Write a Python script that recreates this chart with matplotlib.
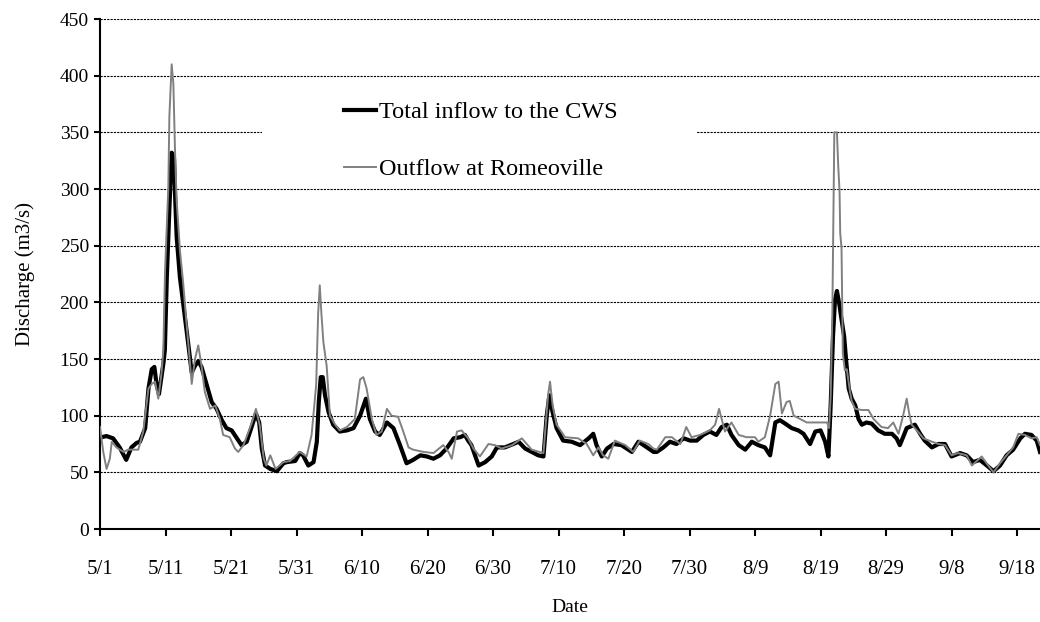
import matplotlib
matplotlib.use("Agg")
import matplotlib.pyplot as plt
from matplotlib.patches import Rectangle

# days after 5/1 and discharge (m3/s)
inflow_day = [0, 0.25, 1.0, 2.0, 3.0, 4.0, 4.8, 5.6, 6.1, 6.9, 7.4, 7.9, 8.3, 8.65, 9.0,
              9.4, 9.7, 9.9, 10.2, 10.6, 10.95, 11.3, 11.45, 11.7, 12.2, 12.96, 13.5, 14.0,
              14.5, 15.0, 15.5, 16.3, 17.05, 17.8, 18.6, 19.3, 20.1, 20.9, 21.6, 22.4, 23.2,
              23.8, 24.3, 24.7, 25.2, 26.0, 27.0, 28.0, 28.5, 29.8, 30.5, 31.0, 31.8, 32.6,
              33.1, 33.4, 33.7, 34.0, 34.35, 34.9, 35.6, 36.6, 37.7, 38.7, 39.7, 40.6, 41.2,
              42.0, 42.7, 43.8, 44.8, 45.8, 46.8, 47.8, 48.9, 49.9, 50.9, 51.9, 52.9, 54.0,
              55.0, 55.7, 56.2, 56.7, 57.8, 58.8, 59.8, 60.6, 61.8, 63.1, 63.9, 64.9, 65.9,
              66.9, 67.7, 68.2, 68.6, 69.1, 69.7, 70.7, 72.0, 73.3, 74.6, 75.3, 75.8, 76.6,
              77.4, 78.4, 79.6, 81.2, 82.2, 83.5, 84.5, 85.0, 86.0, 87.0, 88.0, 89.1, 90.1,
              91.1, 92.1, 93.1, 94.1, 94.9, 95.7, 96.4, 97.5, 98.5, 99.5, 100.5, 101.5, 102.3,
              103.1, 103.8, 104.6, 105.6, 106.6, 107.4, 108.4, 109.2, 110.0, 110.7, 111.2,
              111.55, 111.9, 112.2, 112.5, 112.9, 113.2, 113.6, 113.9, 114.3, 114.75, 115.3,
              115.8, 116.3, 117.0, 117.8, 118.8, 119.8, 120.9, 121.6, 122.1, 122.6, 123.15,
              124.4, 125.2, 125.9, 127.0, 128.0, 129.0, 130.0, 131.3, 132.3, 133.3, 134.3,
              135.4, 136.4, 137.4, 138.4, 139.4, 140.5, 141.2, 142.2, 143.0, 143.5]
inflow = [80, 81, 82, 80, 72, 61, 72, 76, 77, 89, 124, 141, 143, 127, 119,
          135, 147, 158, 222, 284, 332, 327, 296, 258, 222, 187, 162, 138,
          144, 148, 143, 127, 112, 106, 96, 89, 87, 80, 74, 77, 91,
          102, 94, 71, 56, 53, 51, 58, 59, 60, 67, 65, 56, 59,
          77, 112, 134, 134, 118, 103, 92, 86, 87, 89, 100, 115, 97,
          86, 83, 94, 89, 74, 58, 61, 65, 64, 62, 65, 71, 80,
          81, 83, 78, 74, 56, 59, 64, 72, 72, 75, 77, 71, 68,
          65, 64, 100, 118, 103, 89, 78, 77, 74, 80, 84, 74, 64,
          71, 75, 74, 68, 77, 72, 68, 68, 72, 77, 75, 80, 78,
          78, 83, 86, 83, 90, 92, 83, 74, 70, 77, 74, 72, 65,
          94, 96, 93, 89, 87, 84, 75, 86, 87, 77, 64,
          110, 170, 202, 210, 197, 185, 170, 149, 124, 115, 109,
          97, 92, 94, 93, 87, 84, 84, 80, 74, 81, 89,
          92, 84, 78, 72, 75, 75, 64, 67, 65, 59, 61,
          56, 51, 56, 65, 70, 80, 84, 83, 78, 68]

outflow_day = [0, 0.5, 1.0, 1.5, 1.8, 2.5, 3.6, 4.3, 5.85, 6.6, 7.4, 7.9, 8.4, 8.9, 9.4,
               9.67, 9.92, 10.43, 10.59, 10.94, 11.2, 11.45, 11.7, 12.2, 12.7, 13.2, 13.6,
               14.0, 14.5, 15.0, 15.5, 16.0, 16.8, 17.6, 18.3, 18.8, 19.8, 20.6, 21.1, 21.9,
               23.2, 23.8, 24.4, 25.0, 25.4, 26.0, 26.8, 28.0, 29.0, 30.5, 31.55, 32.3, 33.0,
               33.3, 33.55, 33.8, 34.1, 34.6, 35.1, 35.9, 36.6, 37.7, 38.9, 39.7, 40.2, 40.7,
               41.5, 42.2, 43.0, 43.8, 44.5, 45.5, 46.3, 47.1, 47.8, 49.4, 50.9, 52.4, 53.2,
               53.7, 54.5, 55.2, 56.2, 57.0, 58.0, 59.3, 60.3, 61.3, 62.9, 64.4, 65.9, 67.7,
               68.4, 68.7, 69.1, 69.7, 71.0, 73.0, 74.3, 75.3, 76.1, 76.8, 77.6, 78.6, 80.2,
               81.4, 82.4, 83.7, 84.5, 85.0, 86.3, 87.3, 88.6, 89.5, 90.3, 91.6, 93.1, 93.9,
               94.5, 94.9, 95.4, 96.4, 97.5, 98.7, 100.0, 100.5, 101.5, 102.3, 103.1, 103.6,
               104.1, 104.8, 105.3, 105.9, 106.9, 107.9, 109.4, 111.0, 111.3, 111.55, 111.8,
               112.0, 112.1, 112.5, 112.7, 112.9, 113.0, 113.2, 113.4, 113.7, 114.0, 114.5,
               114.75, 115.3, 116.3, 117.3, 118.1, 119.3, 120.3, 121.1, 121.9, 122.6, 123.15,
               123.5, 123.9, 124.7, 125.7, 127.0, 128.0, 129.0, 130.0, 131.0, 132.3, 133.1,
               134.6, 135.6, 136.4, 137.4, 138.4, 139.4, 140.2, 141.2, 142.2, 143.0, 143.5]
outflow = [90, 68, 53, 62, 77, 72, 68, 70, 70, 86, 124, 128, 130, 115, 138,
           158, 226, 302, 364, 410, 393, 334, 290, 246, 217, 182, 156,
           128, 150, 162, 144, 121, 106, 109, 97, 83, 81, 71, 68, 74,
           94, 106, 91, 62, 56, 65, 53, 59, 60, 68, 64, 83, 127,
           190, 215, 190, 165, 144, 100, 92, 87, 90, 97, 132, 134, 124,
           97, 83, 86, 106, 100, 99, 86, 72, 70, 68, 67, 74, 68,
           62, 86, 87, 80, 71, 64, 75, 74, 71, 74, 80, 70, 67,
           118, 130, 109, 92, 81, 80, 75, 65, 72, 65, 62, 78, 74,
           68, 78, 75, 71, 70, 81, 81, 75, 90, 81, 83, 87, 92,
           106, 97, 86, 94, 83, 81, 81, 77, 81, 100, 128, 130,
           102, 112, 113, 100, 97, 94, 94, 94, 89, 118, 190,
           298, 350, 350, 320, 298, 261, 248, 155, 140, 141, 121,
           113, 106, 105, 105, 97, 90, 89, 94, 84, 100, 115,
           103, 92, 87, 80, 77, 75, 74, 65, 67, 65, 56,
           64, 56, 50, 58, 65, 72, 84, 83, 80, 81, 74]

tick_days = list(range(0, 141, 10))
tick_labels = ["5/1", "5/11", "5/21", "5/31", "6/10", "6/20", "6/30", "7/10",
               "7/20", "7/30", "8/9", "8/19", "8/29", "9/8", "9/18"]

plt.rcParams['font.family'] = ['Liberation Serif', 'DejaVu Serif']

fig = plt.figure(figsize=(10.4, 6.22), dpi=100)
ax = fig.add_axes([100 / 1040, 93 / 622, 940 / 1040, 510 / 622])

ax.plot(inflow_day, inflow, color='black', lw=3, label='Total inflow to the CWS', zorder=3)
ax.plot(outflow_day, outflow, color='#808080', lw=1.4, label='Outflow at Romeoville', zorder=4)

ax.set_xlim(0, 143.5)
ax.set_ylim(0, 450)
ax.set_yticks(range(0, 451, 50))
ax.set_xticks(tick_days)
ax.set_xticklabels(tick_labels)
ax.yaxis.grid(True, color='black', linestyle=(0, (2, 1)), lw=0.8)
ax.set_axisbelow(True)

# white box behind the legend hides part of the 350 gridline
ax.add_patch(Rectangle((162 / 940, 320 / 450), 435 / 940, 65 / 450, transform=ax.transAxes,
                       facecolor='white', edgecolor='none', zorder=1.5))

for s in ['top', 'right']:
    ax.spines[s].set_visible(False)
for s in ['left', 'bottom']:
    ax.spines[s].set_linewidth(1.5)

ax.tick_params(axis='y', direction='out', length=4, width=1.5, labelsize=14, pad=4)
ax.tick_params(axis='x', direction='out', length=5, width=1.5, labelsize=15, pad=17)

ax.set_xlabel('Date', fontsize=14, labelpad=15)
ax.set_ylabel('Discharge (m3/s)', fontsize=15, labelpad=18)

fig.legend(loc='upper left', bbox_to_anchor=(344 / 1040, 1 - 101 / 622), frameon=False,
           fontsize=17.5, handlelength=1.3, handletextpad=0.12, labelspacing=1.45,
           borderpad=0, borderaxespad=0)

fig.savefig('out.png', dpi=100)
